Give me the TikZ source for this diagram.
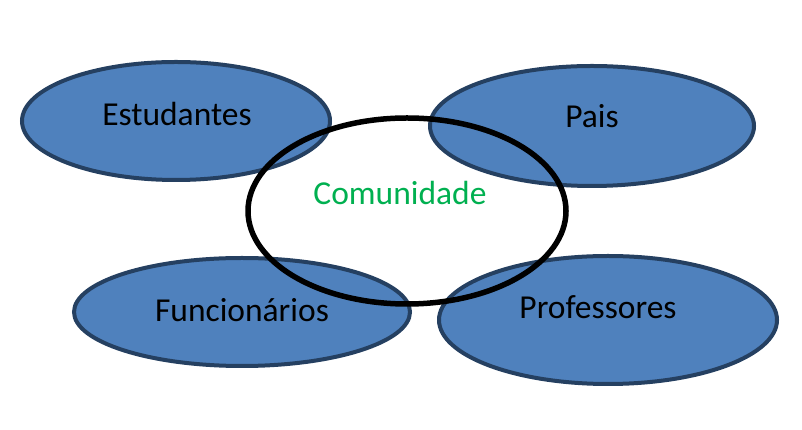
\documentclass[tikz,border=0pt]{standalone}
\usepackage{fontspec}
\setmainfont{Carlito}
\begin{document}
\begin{tikzpicture}[x=1pt,y=1pt,
  blueell/.style={fill={rgb,255:red,79;green,129;blue,189}, draw={rgb,255:red,37;green,64;blue,97}, line width=4pt},
  lbl/.style={font=\fontsize{33.5}{40}\selectfont, text=black},
  ]
\useasboundingbox (0,0) rectangle (802,430);
\fill[white] (0,0) rectangle (802,430);
\draw[blueell] (176,309) ellipse [x radius=154, y radius=59];
\draw[blueell] (592,304) ellipse [x radius=162, y radius=60];
\draw[blueell] (242,118) ellipse [x radius=168, y radius=54];
\draw[blueell] (608,110) ellipse [x radius=169, y radius=64];
\node[lbl] (est) at (177,316) {Estudantes};
\node[lbl] (pais) at (592,314) {Pais};
\node[lbl] (fun) at (242,120) {Funcionários};
\node[lbl] (prof) at (598,123) {Professores};
\draw[black, line width=5.5pt] (407,219) ellipse [x radius=159, y radius=93];
\node[font=\fontsize{33.5}{40}\selectfont, text={rgb,255:red,0;green,176;blue,80}] (com) at (400,237) {Comunidade};
\end{tikzpicture}
\end{document}
